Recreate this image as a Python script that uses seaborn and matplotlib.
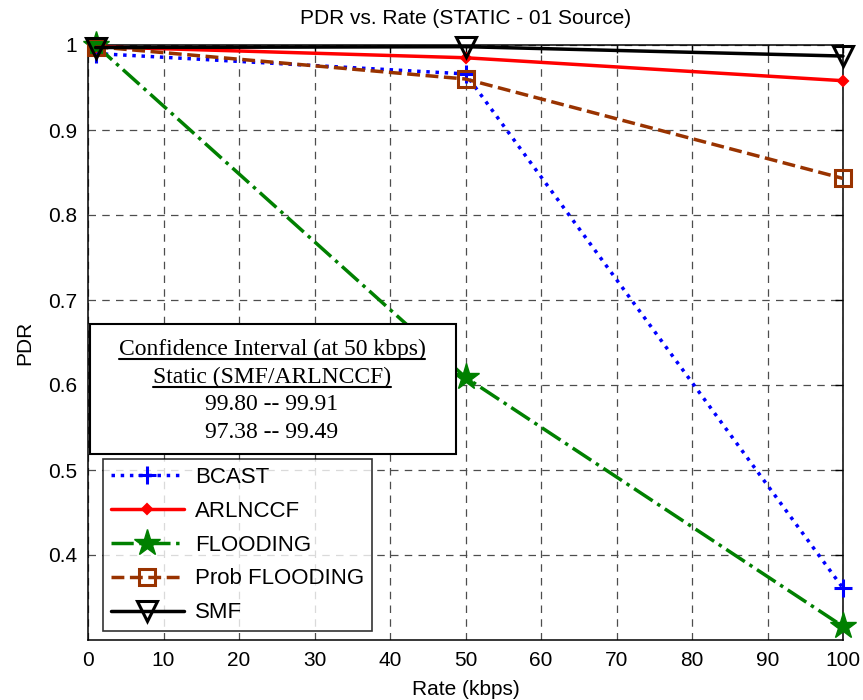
import numpy as np
import pandas as pd
import seaborn as sns
import matplotlib
matplotlib.use("Agg")
import matplotlib.pyplot as plt
from matplotlib.lines import Line2D
from matplotlib.patches import Rectangle

# ---- data ----
rates = [1, 50, 100]
bcast = [0.990, 0.966, 0.361]
arlnccf = [0.998, 0.985, 0.958]
flooding = [1.000, 0.609, 0.316]
prob_flooding = [0.998, 0.960, 0.843]
smf = [0.997, 0.998, 0.987]
series_names = ["BCAST", "ARLNCCF", "FLOODING", "Prob FLOODING", "SMF"]
x_ticks = list(range(0, 101, 10))
y_ticks = [0.4, 0.5, 0.6, 0.7, 0.8, 0.9, 1.0]
y_tick_labels = ["0.4", "0.5", "0.6", "0.7", "0.8", "0.9", "1"]
ci_lines = ["Confidence Interval (at 50 kbps)", "Static (SMF/ARLNCCF)",
            "99.80 -- 99.91", "97.38 -- 99.49"]

sns.set_theme(style="white")
plt.rcParams["font.family"] = ["Liberation Sans", "DejaVu Sans"]
plt.rcParams.update({"text.color": "black", "axes.labelcolor": "black",
                     "xtick.color": "black", "ytick.color": "black"})

fig = plt.figure(figsize=(8.63, 7.0), dpi=100)
ax = fig.add_axes([88 / 863, 60 / 700, 755 / 863, 595 / 700])

styles = [
    dict(color="#0000ff", linestyle=":", marker="+", markersize=13, markeredgewidth=2.2,
         markerfacecolor="#0000ff", linewidth=2.5),
    dict(color="#ff0000", linestyle="-", marker="D", markersize=5, markeredgewidth=1.5,
         markerfacecolor="#ff0000", linewidth=2.5),
    dict(color="#008000", linestyle="-.", marker="*", markersize=20, markeredgewidth=1,
         markerfacecolor="#008000", linewidth=2.5),
    dict(color="#993300", linestyle="--", marker="s", markersize=11, markeredgewidth=2.2,
         markerfacecolor="none", linewidth=2.5),
    dict(color="#000000", linestyle="-", marker="v", markersize=14, markeredgewidth=2.2,
         markerfacecolor="none", linewidth=2.5),
]
all_vals = [bcast, arlnccf, flooding, prob_flooding, smf]

for name, vals, st in zip(series_names, all_vals, styles):
    df = pd.DataFrame({"Rate": rates, "PDR": vals})
    sns.lineplot(data=df, x="Rate", y="PDR", ax=ax, label=name, clip_on=False,
                 markeredgecolor=st["color"], zorder=3, **st)

ax.set_xlim(0, 100)
ax.set_ylim(0.3, 1.0)
ax.set_xticks(x_ticks)
ax.set_yticks(y_ticks)
ax.set_yticklabels(y_tick_labels)
ax.grid(True, color="#4d4d4d", linestyle=(0, (6, 5)), linewidth=0.9)
ax.set_axisbelow(True)
for sp in ax.spines.values():
    sp.set_color("black")
    sp.set_linewidth(1.1)
    sp.set_visible(True)
ax.tick_params(direction="in", length=6, width=1, top=True, right=True,
               labelsize=15, colors="black", pad=8)
ax.set_xlabel("Rate (kbps)", fontsize=15, labelpad=7)
ax.set_ylabel("PDR", fontsize=15, labelpad=10)
ax.set_title("PDR vs. Rate (STATIC - 01 Source)", fontsize=15, pad=15)

# Confidence interval box
box = Rectangle((2 / 755, 186 / 595), 366 / 755, 130 / 595, transform=ax.transAxes,
                facecolor="white", edgecolor="black", linewidth=1.5, zorder=5)
ax.add_patch(box)
cx = (272 - 88) / 755
ys = [(640 - 349) / 595, (640 - 377) / 595, (640 - 405) / 595, (640 - 432) / 595]
texts = []
for s, y in zip(ci_lines, ys):
    t = ax.text(cx, y, s, transform=ax.transAxes, ha="center", va="center",
                fontsize=17, family=["Liberation Serif", "DejaVu Serif"], zorder=6)
    texts.append(t)

leg = ax.legend(loc="upper left", bbox_to_anchor=((103 - 88) / 755, (640 - 459) / 595),
                fontsize=16, frameon=True, fancybox=False, edgecolor="black",
                handlelength=3.3, labelspacing=0.58, borderpad=0.35, handletextpad=0.5,
                borderaxespad=0)
leg.get_frame().set_linewidth(1.2)
leg.set_zorder(7)

fig.canvas.draw()
r = fig.canvas.get_renderer()
for t in texts[:2]:
    bb = t.get_window_extent(renderer=r)
    inv = fig.transFigure.inverted()
    (x0, y0), (x1, _) = inv.transform([(bb.x0, bb.y0 + 1), (bb.x1, bb.y0 + 1)])
    fig.add_artist(Line2D([x0, x1], [y0, y0], transform=fig.transFigure,
                          color="black", linewidth=1.5, zorder=8))

fig.savefig("out.png", dpi=100, facecolor="white")
